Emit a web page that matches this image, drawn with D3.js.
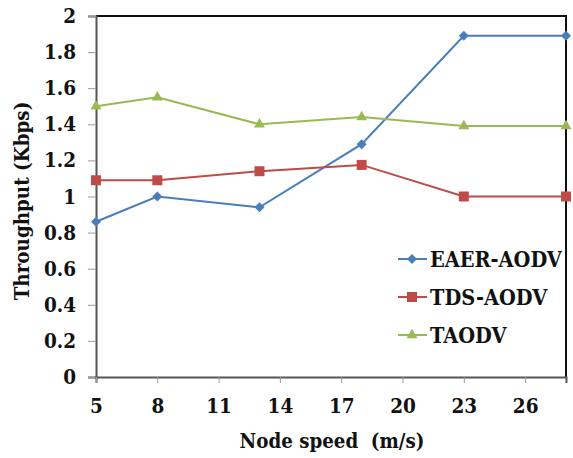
<!DOCTYPE html>
<html>
<head>
<meta charset="utf-8">
<script src="https://cdn.jsdelivr.net/npm/d3@7"></script>
<style>
  html, body { margin: 0; padding: 0; background: #fff; }
  svg { display: block; }
  text { font-family: "DejaVu Serif", serif; font-stretch: condensed; font-weight: bold; fill: #111; }
</style>
</head>
<body>
<svg id="chart" width="573" height="458"></svg>
<script>
// Node speed (m/s) on x, throughput (Kbps) on y
const speeds = [5, 8, 13, 18, 23, 28];
const eaerAodv = [0.86, 1.0, 0.94, 1.29, 1.89, 1.89];
const tdsAodv  = [1.09, 1.09, 1.14, 1.175, 1.0, 1.0];
const taodv    = [1.5, 1.55, 1.40, 1.44, 1.39, 1.39];
const seriesNames = ["EAER-AODV", "TDS-AODV", "TAODV"];
const xTicks = [5, 8, 11, 14, 17, 20, 23, 26];
const yTicks = [0, 0.2, 0.4, 0.6, 0.8, 1, 1.2, 1.4, 1.6, 1.8, 2];

const colors = ["#4a7ebb", "#be4b48", "#98b954"];
const shapes = [d3.symbolSquare, d3.symbolSquare, d3.symbolTriangle];
const symSizes = [50, 100, 52];
const symRotate = [45, 0, 0];

const svg = d3.select("#chart");
const margin = { left: 96, top: 16, right: 7, bottom: 81 };
const W = 573, H = 458;

const x = d3.scaleLinear().domain([5, 28]).range([margin.left, W - margin.right]);
const y = d3.scaleLinear().domain([0, 2]).range([H - margin.bottom, margin.top]);

// plot frame (top and right edges)
svg.append("path")
  .attr("d", `M${x(5)},${y(2)}H${x(28)}V${y(0)}`)
  .attr("fill", "none").attr("stroke", "#111").attr("stroke-width", 2);

// y axis
const yAxis = svg.append("g").attr("transform", `translate(${x(5)},0)`)
  .call(d3.axisLeft(y).tickValues(yTicks).tickSize(8).tickPadding(12)
    .tickFormat(d => d3.format("~g")(d)));
// x axis
const xAxis = svg.append("g").attr("transform", `translate(0,${y(0)})`)
  .call(d3.axisBottom(x).tickValues(xTicks).tickSize(6).tickPadding(15));

[yAxis, xAxis].forEach(g => {
  g.select(".domain").attr("stroke", "#555").attr("stroke-width", 2);
  g.selectAll(".tick line").attr("stroke", "#999").attr("stroke-width", 1);
  g.selectAll(".tick text").attr("font-size", 20.5).attr("font-family", null)
    .attr("fill", "#111");
});

// axis titles
svg.append("text")
  .attr("x", 332).attr("y", 448).attr("text-anchor", "middle")
  .attr("font-size", 20.3)
  .style("white-space", "pre")
  .text("Node speed  (m/s)");
svg.append("text")
  .attr("transform", "translate(29,201) rotate(-90)")
  .attr("text-anchor", "middle").attr("font-size", 20.4)
  .text("Throughput (Kbps)");

// series lines and markers
const allSeries = [eaerAodv, tdsAodv, taodv];
const line = d3.line().x((d, i) => x(speeds[i])).y(d => y(d));
allSeries.forEach((vals, s) => {
  svg.append("path").datum(vals)
    .attr("d", line).attr("fill", "none")
    .attr("stroke", colors[s]).attr("stroke-width", 2);
  svg.selectAll(null).data(vals).enter().append("path")
    .attr("transform", (d, i) => `translate(${x(speeds[i])},${y(d)}) rotate(${symRotate[s]})`)
    .attr("d", d3.symbol().type(shapes[s]).size(symSizes[s]))
    .attr("fill", colors[s]);
});

// legend
const legend = svg.append("g");
seriesNames.forEach((name, s) => {
  const ly = 259 + s * 38;
  legend.append("line").attr("x1", 398).attr("x2", 427).attr("y1", ly).attr("y2", ly)
    .attr("stroke", colors[s]).attr("stroke-width", 2);
  legend.append("path").attr("transform", `translate(412,${ly}) rotate(${symRotate[s]})`)
    .attr("d", d3.symbol().type(shapes[s]).size(symSizes[s])).attr("fill", colors[s]);
  legend.append("text").attr("x", 430).attr("y", ly + 7.5).attr("font-size", 21.5).text(name);
});
</script>
</body>
</html>
